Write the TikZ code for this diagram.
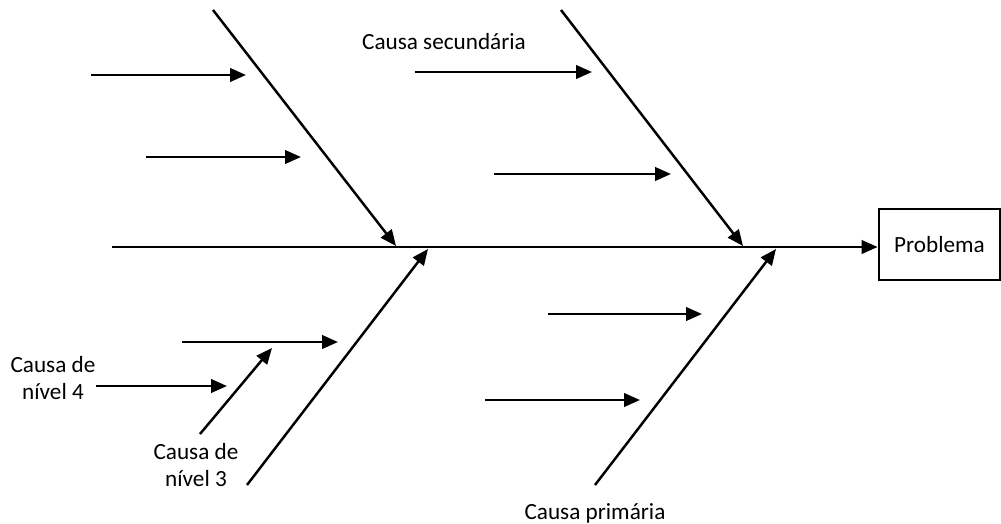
\documentclass[tikz,border=0pt]{standalone}
\usepackage{fontspec}
\setmainfont{Carlito}
\usetikzlibrary{arrows.meta}
\begin{document}
\begin{tikzpicture}[x=0.02cm,y=-0.02cm,
  bone/.style={line width=1.4pt,-{Triangle[length=0.32cm,width=0.27cm]}},
  lbl/.style={font=\fontsize{13.2}{15.5}\selectfont,align=center,inner sep=0pt},
  probbox/.style={draw,line width=1.6pt,minimum width=2.42cm,minimum height=1.42cm,font=\fontsize{13.2}{15.5}\selectfont}]
\useasboundingbox (0,0) rectangle (1001,524);
% problem box
\node[probbox] (prob) at (939.5,244.5) {Problema};
% spine
\coordinate (s0) at (112,247);
\draw[bone] (s0) -- (s0 -| prob.west);
% main bones
\coordinate (ul0) at (213,10);  \coordinate (ul1) at (396,246);
\coordinate (ur0) at (561,10);  \coordinate (ur1) at (743,246);
\coordinate (ll0) at (247,485); \coordinate (ll1) at (428,249);
\coordinate (lr0) at (595,485); \coordinate (lr1) at (776,249);
\draw[bone] (ul0) -- (ul1);
\draw[bone] (ur0) -- (ur1);
\draw[bone] (ll0) -- (ll1);
\draw[bone] (lr0) -- (lr1);
% secondary arrows
\coordinate (a0) at (91,75);   \coordinate (a1) at (246,75);
\coordinate (b0) at (146,157); \coordinate (b1) at (301,157);
\coordinate (c0) at (415,72);  \coordinate (c1) at (592,72);
\coordinate (d0) at (494,174); \coordinate (d1) at (671,174);
\coordinate (e0) at (182,342); \coordinate (e1) at (338,342);
\coordinate (f0) at (96,386);  \coordinate (f1) at (227,386);
\coordinate (g0) at (548,314); \coordinate (g1) at (702,314);
\coordinate (h0) at (485,400); \coordinate (h1) at (640,400);
\coordinate (k0) at (200,434); \coordinate (k1) at (272,348);
\foreach \p in {a,b,c,d,e,f,g,h,k} {\draw[bone] (\p0) -- (\p1);}
% labels
\node[lbl] (tsec) at (444,42) {Causa secundária};
\node[lbl] (t4) at (53,378) {Causa de\\nível 4};
\node[lbl] (t3) at (196,465) {Causa de\\nível 3};
\node[lbl] (tpri) at (595,513) {Causa primária};
\end{tikzpicture}
\end{document}
